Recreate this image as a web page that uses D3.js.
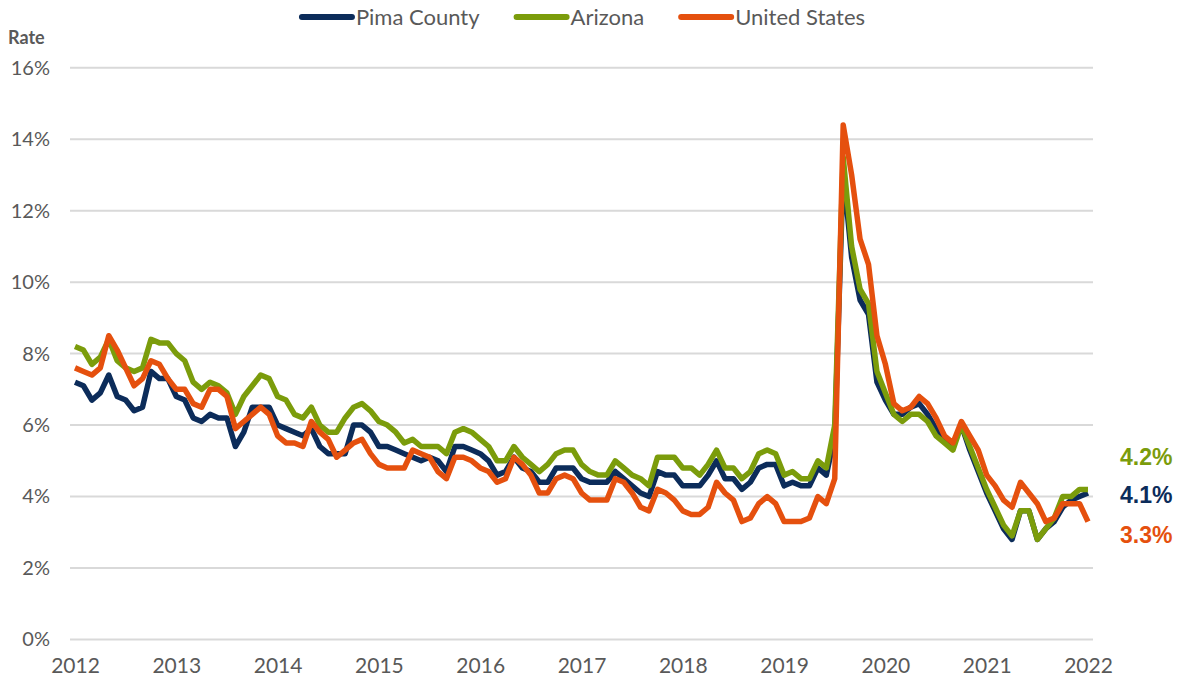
<!DOCTYPE html>
<html>
<head>
<meta charset="utf-8">
<script src="https://cdn.jsdelivr.net/npm/d3@7"></script>
<style>
  body { margin: 0; background: #fff; }
  svg { display: block; font-family: Lato, "Open Sans", sans-serif; }
</style>
</head>
<body>
<svg id="chart" width="1183" height="683"></svg>
<script>
// monthly rates, Sep 2012 .. Sep 2022
const pima = [
  7.2, 7.1, 6.7, 6.9, 7.4, 6.8, 6.7, 6.4, 6.5, 7.5, 7.3, 7.3,
  6.8, 6.7, 6.2, 6.1, 6.3, 6.2, 6.2, 5.4, 5.8, 6.5, 6.5, 6.5,
  6.0, 5.9, 5.8, 5.7, 5.9, 5.4, 5.2, 5.2, 5.2, 6.0, 6.0, 5.8,
  5.4, 5.4, 5.3, 5.2, 5.1, 5.0, 5.1, 5.0, 4.7, 5.4, 5.4, 5.3,
  5.2, 5.0, 4.6, 4.7, 5.1, 4.8, 4.7, 4.4, 4.4, 4.8, 4.8, 4.8,
  4.5, 4.4, 4.4, 4.4, 4.7, 4.5, 4.3, 4.1, 4.0, 4.7, 4.6, 4.6,
  4.3, 4.3, 4.3, 4.6, 5.0, 4.5, 4.5, 4.2, 4.4, 4.8, 4.9, 4.9,
  4.3, 4.4, 4.3, 4.3, 4.8, 4.6, 5.7, 13.1, 10.7, 9.5, 9.1, 7.2,
  6.7, 6.3, 6.3, 6.5, 6.6, 6.3, 5.9, 5.6, 5.4, 6.0, 5.3, 4.7,
  4.1, 3.6, 3.1, 2.8, 3.6, 3.6, 2.8, 3.1, 3.3, 3.7, 3.9, 4.0,
  4.1
];
const arizona = [
  8.2, 8.1, 7.7, 7.9, 8.4, 7.8, 7.6, 7.5, 7.6, 8.4, 8.3, 8.3,
  8.0, 7.8, 7.2, 7.0, 7.2, 7.1, 6.9, 6.3, 6.8, 7.1, 7.4, 7.3,
  6.8, 6.7, 6.3, 6.2, 6.5, 6.0, 5.8, 5.8, 6.2, 6.5, 6.6, 6.4,
  6.1, 6.0, 5.8, 5.5, 5.6, 5.4, 5.4, 5.4, 5.2, 5.8, 5.9, 5.8,
  5.6, 5.4, 5.0, 5.0, 5.4, 5.1, 4.9, 4.7, 4.9, 5.2, 5.3, 5.3,
  4.9, 4.7, 4.6, 4.6, 5.0, 4.8, 4.6, 4.5, 4.3, 5.1, 5.1, 5.1,
  4.8, 4.8, 4.6, 4.9, 5.3, 4.8, 4.8, 4.5, 4.7, 5.2, 5.3, 5.2,
  4.6, 4.7, 4.5, 4.5, 5.0, 4.8, 6.0, 13.5, 11.0, 9.8, 9.4, 7.5,
  6.9, 6.3, 6.1, 6.3, 6.3, 6.1, 5.7, 5.5, 5.3, 6.0, 5.4, 4.8,
  4.2, 3.7, 3.2, 2.9, 3.6, 3.6, 2.8, 3.1, 3.4, 4.0, 4.0, 4.2,
  4.2
];
const unitedStates = [
  7.6, 7.5, 7.4, 7.6, 8.5, 8.1, 7.6, 7.1, 7.3, 7.8, 7.7, 7.3,
  7.0, 7.0, 6.6, 6.5, 7.0, 7.0, 6.8, 5.9, 6.1, 6.3, 6.5, 6.3,
  5.7, 5.5, 5.5, 5.4, 6.1, 5.8, 5.6, 5.1, 5.3, 5.5, 5.6, 5.2,
  4.9, 4.8, 4.8, 4.8, 5.3, 5.2, 5.1, 4.7, 4.5, 5.1, 5.1, 5.0,
  4.8, 4.7, 4.4, 4.5, 5.1, 4.9, 4.6, 4.1, 4.1, 4.5, 4.6, 4.5,
  4.1, 3.9, 3.9, 3.9, 4.5, 4.4, 4.1, 3.7, 3.6, 4.2, 4.1, 3.9,
  3.6, 3.5, 3.5, 3.7, 4.4, 4.1, 3.9, 3.3, 3.4, 3.8, 4.0, 3.8,
  3.3, 3.3, 3.3, 3.4, 4.0, 3.8, 4.5, 14.4, 13.0, 11.2, 10.5, 8.5,
  7.7, 6.6, 6.4, 6.5, 6.8, 6.6, 6.2, 5.7, 5.5, 6.1, 5.7, 5.3,
  4.6, 4.3, 3.9, 3.7, 4.4, 4.1, 3.8, 3.3, 3.4, 3.8, 3.8, 3.8,
  3.3
];
const yearLabels = ["2012", "2013", "2014", "2015", "2016", "2017", "2018", "2019", "2020", "2021", "2022"];
const yTicks = [0, 2, 4, 6, 8, 10, 12, 14, 16];

const months = d3.timeMonth.range(new Date(2012, 8, 1), new Date(2022, 9, 1)).map(d3.timeFormat("%Y-%m"));

const series = [
  { name: "Pima County", values: pima, color: "#0c2c5a" },
  { name: "Arizona", values: arizona, color: "#7b9c0b" },
  { name: "United States", values: unitedStates, color: "#e5500e" }
];

const svg = d3.select("#chart");
const gridLeft = 70, gridRight = 1093;

const x = d3.scalePoint().domain(months).range([75, 1088]);
const y = d3.scaleLinear().domain([0, 16]).range([639.5, 67.7]);

// gridlines
svg.append("g").selectAll("line")
  .data(yTicks)
  .join("line")
  .attr("x1", gridLeft).attr("x2", gridRight)
  .attr("y1", d => y(d)).attr("y2", d => y(d))
  .attr("stroke", "#d9d9d9")
  .attr("stroke-width", 2);

// y axis labels
const yAxis = svg.append("g")
  .attr("transform", "translate(50,0)")
  .call(d3.axisLeft(y).tickValues(yTicks).tickFormat(d => d + "%").tickSize(0).tickPadding(0));
yAxis.select(".domain").remove();
yAxis.selectAll("text")
  .attr("font-family", "Lato, sans-serif")
  .attr("font-size", 20)
  .attr("fill", "#595959");

svg.append("text")
  .attr("x", 8).attr("y", 44)
  .attr("font-size", 18)
  .attr("font-weight", "bold")
  .attr("fill", "#595959")
  .text("Rate");

// x axis labels
const xTickVals = yearLabels.map((_, i) => months[i * 12]);
const xAxis = svg.append("g")
  .attr("transform", "translate(0,658)")
  .call(d3.axisBottom(x).tickValues(xTickVals).tickFormat((d, i) => yearLabels[i]).tickSize(0).tickPadding(0));
xAxis.select(".domain").remove();
xAxis.selectAll("text")
  .attr("font-family", "Lato, sans-serif")
  .attr("font-size", 21)
  .attr("fill", "#595959");

// lines
const line = d3.line()
  .x((d, i) => x(months[i]))
  .y(d => y(d));

svg.append("g").selectAll("path")
  .data(series)
  .join("path")
  .attr("d", d => line(d.values))
  .attr("fill", "none")
  .attr("stroke", d => d.color)
  .attr("stroke-width", 5.5)
  .attr("stroke-linejoin", "round")
  .attr("stroke-linecap", "butt");

// end labels
const endLabelY = { "Arizona": 465, "Pima County": 503, "United States": 543 };
svg.append("g").selectAll("text")
  .data(series)
  .join("text")
  .attr("x", 1120)
  .attr("y", d => endLabelY[d.name])
  .attr("font-family", "'Liberation Sans', Arial, sans-serif")
  .attr("font-size", 23)
  .attr("font-weight", "bold")
  .attr("fill", d => d.color)
  .text(d => d3.format(".1f")(d.values[d.values.length - 1]) + "%");

// legend
const legend = svg.append("g");
let lx = 0;
series.forEach(s => {
  const g = legend.append("g").attr("transform", `translate(${lx},0)`);
  g.append("line")
    .attr("x1", 3).attr("x2", 53)
    .attr("y1", 0).attr("y2", 0)
    .attr("stroke", s.color)
    .attr("stroke-width", 6)
    .attr("stroke-linecap", "round");
  const t = g.append("text")
    .attr("x", 57).attr("y", 7.5)
    .attr("font-size", 22)
    .attr("fill", "#595959")
    .text(s.name);
  lx += 57 + t.node().getComputedTextLength() + 34;
});
lx -= 34;
legend.attr("transform", `translate(${582 - lx / 2},17)`);
</script>
</body>
</html>
